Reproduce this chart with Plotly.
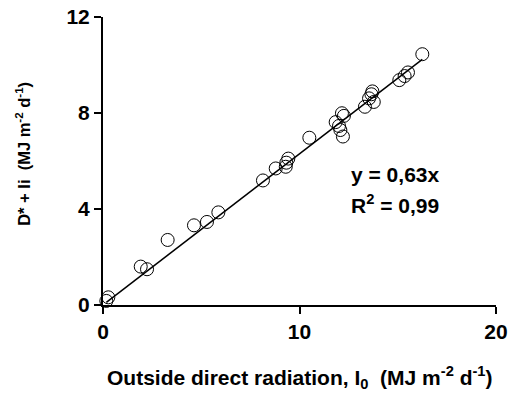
import plotly.graph_objects as go

# Outside direct radiation I0 (MJ m-2 d-1)
i0 = [0.17, 0.27, 1.92, 2.24, 3.29, 4.63, 5.29, 5.87, 8.14, 8.79, 9.30, 9.33, 9.43,
      10.50, 11.84, 12.01, 12.08, 12.21, 12.16, 12.26, 13.33, 13.54, 13.71, 13.66,
      13.78, 15.08, 15.35, 15.52, 16.25]
# Intercepted diffuse + direct radiation D* + Ii (MJ m-2 d-1)
d_ii = [0.17, 0.32, 1.60, 1.49, 2.71, 3.32, 3.46, 3.86, 5.19, 5.69, 5.76, 5.93, 6.10,
        6.97, 7.62, 7.46, 7.29, 7.02, 7.99, 7.88, 8.26, 8.61, 8.90, 8.78,
        8.46, 9.37, 9.54, 9.69, 10.45]

slope = 0.63
r2_text = "0,99"
slope_text = "0,63"

x_ticks = [0, 10, 20]
y_ticks = [0, 4, 8, 12]

FONT = "Liberation Sans, Arial, sans-serif"

fit_x = [min(i0), max(i0)]
fit_y = [slope * v for v in fit_x]

fig = go.Figure()
fig.add_trace(go.Scatter(
    x=fit_x, y=fit_y, mode="lines",
    line=dict(color="black", width=1.5),
    cliponaxis=False, showlegend=False,
))
fig.add_trace(go.Scatter(
    x=i0, y=d_ii, mode="markers",
    marker=dict(symbol="circle-open", size=13, color="black", line=dict(width=1)),
    cliponaxis=False, showlegend=False,
))

axis_common = dict(
    automargin=False,
    showgrid=False, zeroline=False, showline=True, linecolor="black", linewidth=2,
    ticks="outside", ticklen=7, tickwidth=2, tickcolor="black",
    tickfont=dict(family=FONT, size=21, color="black"),
)
fig.update_xaxes(range=[0, 20], tickvals=x_ticks,
                 ticktext=[f"<b>{v}</b>" for v in x_ticks], **axis_common)
fig.update_yaxes(range=[0, 12], tickvals=y_ticks,
                 ticktext=[f"<b>{v}</b>" for v in y_ticks], **axis_common)

fig.add_annotation(
    text="<b>Outside direct radiation, I<sub>0</sub>  (MJ m<sup>-2</sup> d<sup>-1</sup>)</b>",
    xref="paper", yref="paper", x=0.501, y=0, yshift=-72, yanchor="middle",
    showarrow=False, font=dict(family=FONT, size=21, color="black"),
)
fig.add_annotation(
    text="<b>D* + Ii  (MJ m<sup>-2</sup> d<sup>-1</sup>)</b>",
    xref="paper", yref="paper", x=0, xshift=-80, y=0.525, textangle=-90,
    xanchor="center", yanchor="middle",
    showarrow=False, font=dict(family=FONT, size=16.5, color="black"),
)
fig.add_annotation(
    text=f"<b>y = {slope_text}x</b>", x=12.5, y=5.45, xanchor="left", yanchor="middle",
    showarrow=False, font=dict(family=FONT, size=21, color="black"),
)
fig.add_annotation(
    text=f"<b>R<sup>2</sup> = {r2_text}</b>", x=12.5, y=4.2, xanchor="left", yanchor="middle",
    showarrow=False, font=dict(family=FONT, size=21, color="black"),
)

fig.update_layout(
    width=510, height=394,
    margin=dict(l=103, r=14, t=17, b=89),
    plot_bgcolor="white", paper_bgcolor="white",
    font=dict(family=FONT, color="black"),
)

fig.write_html("out.html")
